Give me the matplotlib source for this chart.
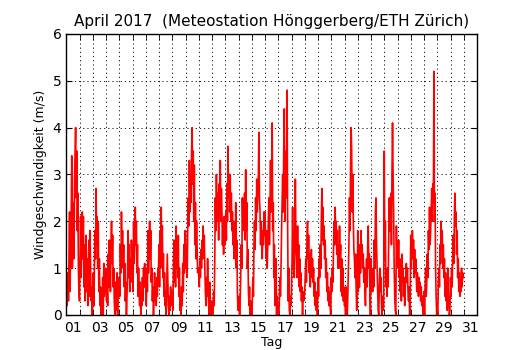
import numpy as np
import matplotlib
matplotlib.use('Agg')
import matplotlib.pyplot as plt

# Windgeschwindigkeit (m/s), stuendliche Werte, je eine Zeile pro Tag (April 2017)
wind_days = [
    [0.8, 0.2, 0.6, 0.9, 0.3, 1.2, 2.2, 0.5, 1.5, 2.2, 3.4, 1.0, 1.5, 2.4, 1.2, 2.8, 3.5, 4.0, 2.5, 3.5, 1.8, 2.6, 1.0, 0.5],
    [0.3, 1.2, 2.1, 0.8, 1.6, 2.2, 1.2, 2.1, 0.6, 1.5, 0.3, 1.0, 1.7, 0.5, 1.2, 0.2, 0.9, 1.6, 0.4, 1.8, 1.0, 0.3, 0.6, 0.0],
    [0.3, 0.9, 0.2, 1.0, 1.8, 1.2, 2.7, 1.5, 2.1, 1.0, 2.0, 0.5, 1.2, 0.2, 0.6, 0.0, 0.5, 0.2, 0.8, 0.0, 1.1, 0.4, 0.8, 0.5],
    [1.0, 0.3, 0.6, 0.2, 1.3, 0.6, 1.6, 1.0, 0.5, 1.4, 2.0, 1.1, 1.7, 0.6, 1.0, 0.3, 0.0, 0.7, 0.1, 0.5, 0.9, 0.0, 0.6, 0.8],
    [0.8, 0.4, 1.5, 0.9, 2.2, 1.3, 1.8, 1.0, 1.5, 0.6, 1.1, 0.3, 0.7, 0.0, 0.4, 0.9, 1.8, 0.8, 1.5, 0.5, 1.2, 0.7, 1.6, 1.2],
    [1.2, 0.5, 2.0, 1.1, 1.6, 2.3, 1.5, 2.0, 0.9, 1.5, 0.4, 1.0, 0.5, 0.2, 0.7, 0.0, 0.4, 0.2, 0.8, 0.3, 1.0, 0.6, 1.1, 0.6],
    [0.6, 0.2, 1.0, 0.5, 1.8, 0.9, 1.5, 2.0, 1.2, 1.8, 0.7, 1.0, 0.3, 0.6, 0.0, 0.4, 0.9, 0.3, 0.6, 0.2, 0.8, 0.4, 1.0, 0.9],
    [1.5, 0.6, 1.8, 1.0, 2.3, 1.4, 1.9, 0.8, 1.3, 0.4, 0.9, 0.2, 0.5, 0.0, 0.6, 1.3, 0.7, 0.2, 0.0, 0.4, 0.1, 0.6, 0.2, 0.5],
    [0.5, 0.1, 0.9, 1.6, 0.7, 1.2, 0.6, 1.9, 1.0, 1.4, 0.8, 1.7, 0.4, 1.0, 0.1, 0.3, 0.0, 0.6, 0.2, 1.1, 0.5, 1.5, 0.9, 1.8],
    [1.8, 1.0, 1.5, 0.8, 1.8, 2.5, 1.9, 3.3, 2.2, 3.0, 2.4, 3.5, 4.0, 2.8, 3.5, 2.0, 3.2, 1.5, 2.4, 1.2, 2.0, 1.5, 0.9, 1.0],
    [1.0, 0.6, 1.2, 0.8, 1.4, 1.0, 1.6, 1.2, 1.9, 1.3, 1.7, 1.0, 0.5, 0.2, 0.8, 0.4, 1.2, 0.6, 0.2, 0.0, 0.7, 0.3, 0.1, 0.0],
    [0.3, 0.0, 0.1, 0.5, 0.2, 1.2, 2.5, 1.8, 3.0, 2.2, 2.0, 2.6, 1.6, 2.8, 2.2, 3.3, 2.0, 2.7, 2.2, 1.5, 2.0, 1.3, 2.1, 1.5],
    [1.5, 2.2, 1.6, 2.8, 2.0, 3.6, 2.5, 3.0, 2.2, 3.0, 2.0, 2.6, 1.8, 2.2, 1.5, 2.0, 1.2, 1.8, 1.4, 2.4, 1.0, 1.6, 0.5, 0.1],
    [0.1, 0.4, 0.0, 0.3, 0.8, 1.5, 1.0, 2.5, 1.8, 2.2, 2.0, 2.6, 1.6, 3.1, 1.8, 2.4, 1.0, 1.4, 0.5, 0.2, 0.6, 0.0, 0.3, 0.2],
    [0.0, 0.3, 0.8, 0.4, 1.5, 2.0, 1.4, 2.5, 1.8, 2.9, 2.2, 2.6, 3.0, 3.9, 2.5, 2.2, 1.5, 2.0, 1.6, 1.2, 1.8, 1.5, 2.2, 1.7],
    [2.2, 1.6, 1.2, 1.8, 1.0, 1.5, 2.0, 2.5, 1.5, 2.2, 3.3, 2.2, 2.8, 4.1, 1.8, 2.4, 0.8, 1.5, 0.2, 0.9, 1.2, 0.0, 0.4, 0.1],
    [0.1, 0.0, 0.3, 0.8, 0.4, 1.0, 1.8, 2.4, 3.0, 2.2, 3.6, 4.4, 2.0, 3.1, 3.5, 2.5, 4.8, 1.9, 0.3, 1.0, 0.1, 0.0, 0.4, 0.2],
    [0.5, 1.2, 2.3, 1.0, 1.6, 0.8, 2.0, 2.9, 1.5, 1.2, 0.8, 1.9, 1.0, 1.5, 0.6, 1.2, 0.5, 0.9, 0.3, 0.6, 0.0, 0.5, 0.3, 0.4],
    [0.5, 0.9, 1.2, 0.7, 1.6, 2.0, 1.2, 1.7, 0.9, 1.3, 0.6, 1.1, 1.4, 0.8, 1.2, 0.7, 1.0, 0.4, 0.7, 0.2, 0.5, 0.1, 0.3, 0.0],
    [0.8, 0.4, 1.2, 0.8, 1.5, 1.0, 2.0, 2.7, 1.6, 2.3, 1.5, 1.9, 1.2, 1.6, 0.8, 1.2, 0.5, 0.9, 0.3, 0.6, 0.2, 0.5, 0.2, 0.0],
    [0.8, 0.5, 1.0, 0.7, 1.4, 2.0, 1.5, 2.3, 1.6, 2.0, 1.3, 1.8, 1.0, 1.5, 1.0, 1.9, 1.2, 1.5, 0.5, 1.2, 0.4, 1.0, 0.3, 0.6],
    [0.2, 0.3, 0.0, 0.6, 0.2, 0.0, 0.4, 1.0, 1.5, 2.5, 1.8, 3.2, 4.0, 3.5, 2.2, 3.0, 2.0, 1.4, 1.2, 0.8, 1.3, 0.6, 0.1, 0.2],
    [1.8, 0.5, 1.2, 0.6, 1.5, 0.9, 1.8, 1.2, 1.5, 1.0, 1.3, 0.7, 1.0, 0.5, 0.2, 0.8, 1.2, 0.6, 1.5, 1.9, 1.0, 1.3, 0.5, 0.0],
    [1.2, 0.5, 0.8, 0.5, 1.0, 0.6, 1.6, 1.0, 2.2, 2.5, 1.5, 1.0, 0.4, 0.1, 0.0, 0.6, 1.0, 0.5, 0.8, 0.2, 0.0, 0.4, 0.1, 0.2],
    [3.5, 1.2, 2.0, 0.6, 0.9, 0.4, 1.0, 0.6, 1.5, 2.5, 1.8, 2.0, 2.6, 1.5, 3.0, 4.1, 3.0, 2.2, 1.0, 0.4, 0.1, 0.0, 1.9, 1.2],
    [1.5, 1.0, 1.6, 0.8, 1.2, 0.5, 0.9, 0.3, 1.3, 0.7, 1.0, 0.4, 0.8, 0.2, 0.6, 0.8, 1.1, 0.7, 1.0, 0.5, 0.3, 0.6, 0.0, 0.3],
    [1.7, 1.0, 1.4, 1.8, 1.2, 1.6, 0.8, 1.4, 0.9, 1.2, 0.8, 0.5, 0.9, 0.6, 0.4, 0.8, 0.5, 0.7, 0.3, 0.6, 0.2, 0.4, 0.1, 0.0],
    [0.5, 0.0, 0.6, 1.0, 0.4, 0.7, 1.3, 0.8, 1.8, 1.4, 2.3, 1.5, 1.8, 2.2, 2.7, 2.0, 2.8, 2.4, 5.2, 2.0, 2.6, 1.0, 0.4, 0.0],
    [0.1, 0.0, 0.7, 1.0, 0.6, 1.5, 1.1, 2.0, 1.4, 1.8, 1.0, 1.5, 0.8, 1.2, 0.4, 0.9, 0.3, 0.6, 0.1, 1.0, 0.5, 0.2, 0.0, 0.1],
    [0.8, 0.4, 1.0, 0.6, 1.3, 1.7, 1.1, 2.1, 2.6, 1.9, 2.2, 1.3, 1.8, 0.8, 1.2, 0.5, 0.9, 0.4, 0.8, 0.5, 1.0, 0.6, 0.9, 0.8],
]
day_labels = ['%02d' % d for d in range(1, 32, 2)]

wind = np.concatenate([np.array(d) for d in wind_days])
t = np.arange(len(wind)) / 24.0  # Tage seit 1. April 00:00

fig = plt.figure(figsize=(5.3, 3.5), dpi=100, facecolor='white')
ax = fig.add_axes([0.125, 0.1, 0.775, 0.803])

ax.plot(t, wind, color='red', lw=1.2)

ax.set_xlim(0, 31)
ax.set_ylim(0, 6)
ax.set_title('April 2017  (Meteostation Hönggerberg/ETH Zürich)', fontsize=11)
ax.set_xlabel('Tag', fontsize=9, labelpad=1)
ax.set_ylabel('Windgeschwindigkeit (m/s)', fontsize=9)

# Tageslabels in der Tagesmitte, Gitter an den Tagesgrenzen
ax.set_xticks(np.arange(0.5, 31, 2))
ax.set_xticklabels(day_labels)
ax.set_xticks(np.arange(0, 32, 1), minor=True)
ax.set_yticks(range(0, 7))
ax.tick_params(axis='x', which='major', length=0, labelsize=10, pad=4)
ax.tick_params(axis='x', which='minor', length=4, direction='in', top=True, bottom=True)
ax.tick_params(axis='y', length=4, direction='in', left=True, right=True, labelsize=10)
grid_style = dict(color='black', linestyle=(0, (1.5, 3.5)), lw=0.6)
ax.grid(True, axis='x', which='minor', **grid_style)
ax.grid(True, axis='y', which='major', **grid_style)
for s in ax.spines.values():
    s.set_linewidth(1.0)

fig.savefig('out.png', dpi=100, facecolor='white')
